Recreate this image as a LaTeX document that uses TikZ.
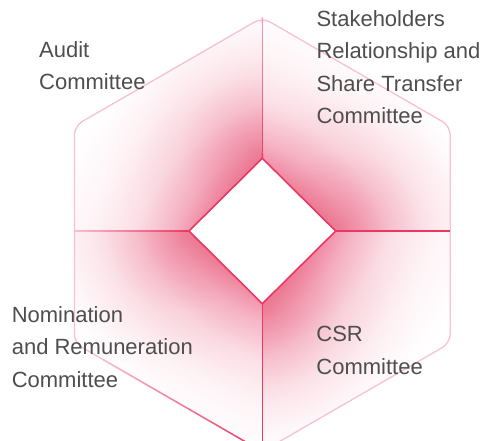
\documentclass[tikz,border=0pt]{standalone}
\usepackage{fontspec}
\setmainfont{Liberation Sans}
\usetikzlibrary{calc}

\definecolor{linered}{RGB}{234,56,98}
\definecolor{softpink}{RGB}{248,192,208}
\definecolor{glowpink}{RGB}{232,70,112}
\definecolor{labelgray}{RGB}{78,78,78}
\colorlet{topfade}{linered!25!softpink}

% the path's box takes the inner 25bp of a shading
\pgfdeclareradialshading{edgeglow}{\pgfpoint{0bp}{0bp}}{%
  color(0bp)=(glowpink!60);
  color(12.5bp)=(glowpink!60);
  color(14.5bp)=(glowpink!38);
  color(17.5bp)=(glowpink!17);
  color(21bp)=(glowpink!6);
  color(25bp)=(white);
  color(50bp)=(white)}
\pgfdeclareradialshading{vertexglow}{\pgfpoint{0bp}{0bp}}{%
  color(0bp)=(glowpink!35);
  color(5bp)=(glowpink!25);
  color(12.5bp)=(glowpink!9);
  color(20bp)=(glowpink!2);
  color(25bp)=(white);
  color(50bp)=(white)}

\tikzset{committee/.style={
            font=\fontsize{22}{32.5}\selectfont,
            text=labelgray,
            align=left,
            inner sep=0pt,
            anchor=base west
        },
        hexline/.style={
            softpink,
            line width=1.3pt,
            rounded corners=9pt
        },
        splitline/.style={
            line width=1.5pt
        }
    }

% line that turns from one colour into another
\newcommand{\shadedline}[4]{%
    \foreach \k in {0,...,23}{%
        \pgfmathsetmacro{\mix}{100*(\k+0.5)/24}%
        \draw[splitline,#4!\mix!#3] ($(#1)!\k/24!(#2)$) -- ($(#1)!{(\k+1)/24}!(#2)$);
    }}

\begin{document}
\begin{tikzpicture}[x=1pt,y=-1pt]
        \useasboundingbox (0,0) rectangle (501,441);
        \clip (0,0) rectangle (501,441);

        % hexagon
        \coordinate (ht) at (262.3,17.5);
        \coordinate (hur) at (450.2,126);
        \coordinate (hlr) at (450.2,343);
        \coordinate (hb) at (262.3,451.5);
        \coordinate (hll) at (74.4,343);
        \coordinate (hul) at (74.4,126);
        \coordinate (hl) at (74.4,231);
        \coordinate (hr) at (450.2,231);
        % diamond
        \coordinate (ct) at (262.3,231);
        \coordinate (dt) at (262.3,158.3);
        \coordinate (dr) at (335.7,231);
        \coordinate (db) at (262.3,303.7);
        \coordinate (dl) at (189,231);
        \coordinate (mtl) at ($(dl)!0.5!(dt)$);
        \coordinate (mtr) at ($(dt)!0.5!(dr)$);
        \coordinate (mbr) at ($(dr)!0.5!(db)$);
        \coordinate (mbl) at ($(db)!0.5!(dl)$);

        \begin{scope}
            \clip[rounded corners=9pt] (ht) -- (hur) -- (hlr) -- (hb) -- (hll) -- (hul) -- cycle;
            \begin{scope}
                \clip (dt) -- (ht) -- (hul) -- (hl) -- (dl) -- cycle;
                \shade[shading=edgeglow] ($(mtl)!150pt!(ct)$) circle (300pt);
                \shade[shading=vertexglow,blend mode=multiply] (255,150) circle (150pt);
            \end{scope}
            \begin{scope}
                \clip (dr) -- (hr) -- (hur) -- (ht) -- (dt) -- cycle;
                \shade[shading=edgeglow] ($(mtr)!150pt!(ct)$) circle (300pt);
                \shade[shading=vertexglow,blend mode=multiply] (344,224) circle (150pt);
            \end{scope}
            \begin{scope}
                \clip (db) -- (hb) -- (hlr) -- (hr) -- (dr) -- cycle;
                \shade[shading=edgeglow] ($(mbr)!150pt!(ct)$) circle (300pt);
                \shade[shading=vertexglow,blend mode=multiply] (269,312) circle (150pt);
            \end{scope}
            \begin{scope}
                \clip (dl) -- (hl) -- (hll) -- (hb) -- (db) -- cycle;
                \shade[shading=edgeglow] ($(mbl)!150pt!(ct)$) circle (300pt);
                \shade[shading=vertexglow,blend mode=multiply] (181,238) circle (150pt);
            \end{scope}
        \end{scope}

        \draw[hexline] (ht) -- (hur) -- (hlr) -- (hb) -- (hll) -- (hul) -- cycle;
        \coordinate (bm) at ($(hll)!0.15!(hb)$);
        \shadedline{bm}{hb}{softpink}{linered}
        \shadedline{ht}{dt}{topfade}{linered}
        \shadedline{hl}{dl}{softpink}{linered}
        \draw[splitline,linered] (dr) -- (hr);
        \draw[splitline,linered] (db) -- (hb);
        \draw[linered,line width=1.6pt] (dt) -- (dr) -- (db) -- (dl) -- cycle;

        \node[committee] (audit) at (39,90) {Audit\\Committee};
        \node[committee] (stakeholders) at (316.3,124) {Stakeholders\\Relationship and\\Share Transfer\\Committee};
        \node[committee] (csr) at (316.2,374.3) {CSR\\Committee};
        \node[committee] (nomination) at (11.6,387.3) {Nomination\\and Remuneration\\Committee};

\end{tikzpicture}
\end{document}
